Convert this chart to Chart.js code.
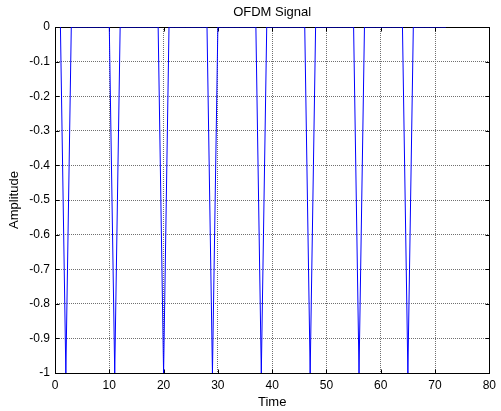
<!DOCTYPE html>
<html>
<head>
<meta charset="utf-8">
<script src="https://cdn.jsdelivr.net/npm/chart.js@4/dist/chart.umd.min.js"></script>
<style>
  html, body { margin: 0; padding: 0; background: #ffffff; }
  #wrap { width: 501px; height: 411px; }
</style>
</head>
<body>
<div id="wrap"><canvas id="ofdmChart" width="501" height="411"></canvas></div>
<script>
// Samples of the signal, plotted against sample number 1..72
const amplitude = [
     0, -1,  0,  0,  0,  0,  0,  0,  0,  0,
    -1,  0,  0,  0,  0,  0,  0,  0,  0, -1,
     0,  0,  0,  0,  0,  0,  0,  0, -1,  0,
     0,  0,  0,  0,  0,  0,  0, -1,  0,  0,
     0,  0,  0,  0,  0,  0, -1,  0,  0,  0,
     0,  0,  0,  0,  0, -1,  0,  0,  0,  0,
     0,  0,  0,  0, -1,  0,  0,  0,  0,  0,
     0,  0
];
const timeRange = [0, 80];
const ampRange = [-1, 0];
const timeStep = 10;
const ampStep = 0.1;

const chartTitle = 'OFDM Signal';
const xTitle = 'Time';
const yTitle = 'Amplitude';

const FONT = 'Liberation Sans, Arial, sans-serif';

// box around the axes with inward tick marks (under the trace), then the text labels
const matlabAxes = {
    id: 'matlabAxes',
    beforeDatasetsDraw(chart) {
        const ctx = chart.ctx;
        const a = chart.chartArea;
        const xs = chart.scales.x, ys = chart.scales.y;
        const L = Math.round(a.left) + 0.5, R = Math.round(a.right) + 0.5;
        const T = Math.round(a.top) + 0.5, B = Math.round(a.bottom) + 0.5;
        const tl = 4;

        ctx.save();
        ctx.strokeStyle = '#000';
        ctx.lineWidth = 1;
        ctx.beginPath();
        xs.ticks.forEach(t => {
            const px = Math.round(xs.getPixelForValue(t.value)) + 0.5;
            ctx.moveTo(px, B); ctx.lineTo(px, B - tl);
            ctx.moveTo(px, T); ctx.lineTo(px, T + tl);
        });
        ys.ticks.forEach(t => {
            const py = Math.round(ys.getPixelForValue(t.value)) + 0.5;
            ctx.moveTo(L, py); ctx.lineTo(L + tl, py);
            ctx.moveTo(R, py); ctx.lineTo(R - tl, py);
        });
        ctx.stroke();
        ctx.strokeRect(L, T, R - L, B - T);
        ctx.restore();
    },
    afterDraw(chart) {
        const ctx = chart.ctx;
        const a = chart.chartArea;
        ctx.save();
        ctx.fillStyle = '#000';
        ctx.font = '13px ' + FONT;
        ctx.textAlign = 'center';
        ctx.textBaseline = 'middle';
        const cx = (a.left + a.right) / 2;
        ctx.fillText(chartTitle, cx, 12);
        ctx.fillText(xTitle, cx, 402);
        ctx.translate(14, (a.top + a.bottom) / 2);
        ctx.rotate(-Math.PI / 2);
        ctx.fillText(yTitle, 0, 0);
        ctx.restore();
    }
};

const ctx = document.getElementById('ofdmChart').getContext('2d');
new Chart(ctx, {
    type: 'line',
    data: {
        datasets: [{
            data: amplitude.map((v, i) => ({ x: i + 1, y: v })),
            borderColor: '#0000ff',
            borderWidth: 1,
            pointRadius: 0,
            tension: 0,
            fill: false
        }]
    },
    options: {
        responsive: false,
        animation: false,
        events: [],
        layout: { padding: { top: 27, right: 6, left: 0, bottom: 0 } },
        plugins: {
            legend: { display: false },
            title: { display: false },
            tooltip: { enabled: false }
        },
        scales: {
            x: {
                type: 'linear',
                min: timeRange[0],
                max: timeRange[1],
                afterFit: s => { s.height = 38; },
                ticks: {
                    stepSize: timeStep,
                    color: '#000',
                    font: { family: FONT, size: 12 },
                    padding: 5,
                    maxRotation: 0
                },
                grid: { color: '#707070', drawTicks: false, lineWidth: 1 },
                border: { display: false, dash: [1, 1] }
            },
            y: {
                type: 'linear',
                min: ampRange[0],
                max: ampRange[1],
                afterFit: s => { s.width = 55; },
                ticks: {
                    stepSize: ampStep,
                    color: '#000',
                    font: { family: FONT, size: 12 },
                    padding: 5,
                    callback: v => String(Math.round(v * 10) / 10)
                },
                grid: { color: '#707070', drawTicks: false, lineWidth: 1 },
                border: { display: false, dash: [1, 1] }
            }
        }
    },
    plugins: [matlabAxes]
});
</script>
</body>
</html>
